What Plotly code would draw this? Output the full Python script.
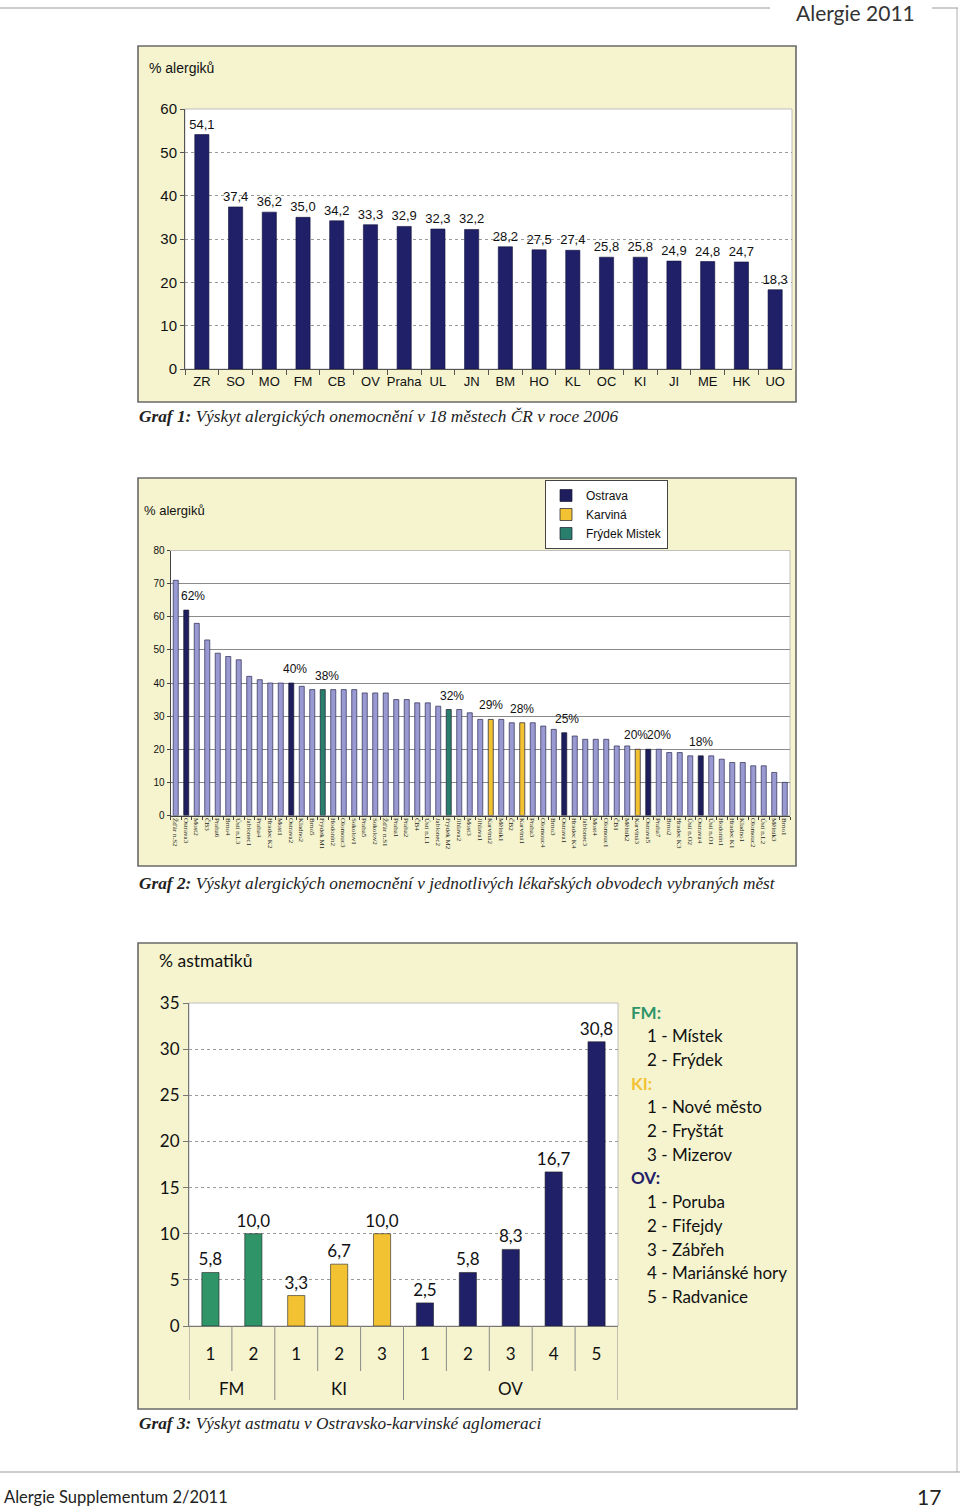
import plotly.graph_objects as go

W, H = 960, 1509
OFF = 0  # body margin is removed by the post script


def px_x(px):
    return (px - OFF) / W


def px_y(py):
    return 1 - (py - OFF) / H


# ---------------- data ----------------
# Graf 1
cities1 = ["ZR", "SO", "MO", "FM", "CB", "OV", "Praha", "UL", "JN", "BM",
           "HO", "KL", "OC", "KI", "JI", "ME", "HK", "UO"]
allergy1 = [54.1, 37.4, 36.2, 35.0, 34.2, 33.3, 32.9, 32.3, 32.2, 28.2,
            27.5, 27.4, 25.8, 25.8, 24.9, 24.8, 24.7, 18.3]

# Graf 2
districts2 = ["Žďár n.S2", "Ostrava3", "Most2", "ČB3", "Praha6", "Brno4", "Ústí n.L3",
              "Jablonec1", "Praha4", "Hradec K2", "Most1", "Ostrava2", "Kladno2", "Brno5",
              "Frýdek M1", "Hodonín2", "Olomouc3", "Sokolov1", "Praha5", "Sokolov2",
              "Žďár n.S1", "Praha1", "Praha2", "ČB4", "Ústí n.L1", "Jablonec2", "Frýdek M2",
              "Jihlava2", "Most3", "Jihlava1", "Karviná2", "Mělník1", "ČB2", "Karviná1",
              "Praha3", "Olomouc4", "Brno3", "Ostrava1", "Hradec K4", "Jablonec3", "Most4",
              "Olomouc1", "ČB1", "Mělník2", "Karviná3", "Ostrava5", "Praha7", "Brno2",
              "Hradec K3", "Ústí n.O2", "Ostrava4", "Ústí n.O1", "Hodonín1", "Hradec K1",
              "Kladno1", "Olomouc2", "Ústí n.L2", "Mělník3", "Brno1"]
allergy2 = [71, 62, 58, 53, 49, 48, 47, 42, 41, 40, 40, 40, 39, 38, 38, 38, 38, 38, 37, 37,
            37, 35, 35, 34, 34, 33, 32, 32, 31, 29, 29, 29, 28, 28, 28, 27, 26, 25, 24, 23,
            23, 23, 21, 21, 20, 20, 20, 19, 19, 18, 18, 18, 17, 16, 16, 15, 15, 13, 10]
highlight_prefix2 = ["Ostrava", "Karviná", "Frýdek M"]
legend_names2 = ["Ostrava", "Karviná", "Frýdek Mistek"]

# Graf 3
groups3 = ["FM", "FM", "KI", "KI", "KI", "OV", "OV", "OV", "OV", "OV"]
parts3 = ["1", "2", "1", "2", "3", "1", "2", "3", "4", "5"]
asthma3 = [5.8, 10.0, 3.3, 6.7, 10.0, 2.5, 5.8, 8.3, 16.7, 30.8]
legend3 = [("FM:", ["1 - Místek", "2 - Frýdek"]),
           ("KI:", ["1 - Nové město", "2 - Fryštát", "3 - Mizerov"]),
           ("OV:", ["1 - Poruba", "2 - Fifejdy", "3 - Zábřeh", "4 - Mariánské hory",
                    "5 - Radvanice"])]

# ---------------- styles ----------------
NAVY = "#1F2068"
LAV = "#9A9AD2"
YEL = "#F2C232"
GRN2 = "#2A7F6C"
GRN3 = "#2F9468"
PANEL = "#F5F4CF"
F1 = "Liberation Sans, Arial, sans-serif"
F2 = "Liberation Sans Narrow, Arial Narrow, Liberation Sans, sans-serif"
F3 = "Lato, Noto Sans, sans-serif"
FS = "Liberation Serif, Times New Roman, serif"
group_colors3 = {"FM": GRN3, "KI": YEL, "OV": NAVY}
hl_colors2 = {"Ostrava": "#1E1E5E", "Karviná": YEL, "Frýdek M": GRN2}

fig = go.Figure()

# ---- Graf 1 ----
fig.add_trace(go.Bar(
    x=cities1, y=allergy1, xaxis="x", yaxis="y", width=0.42,
    marker=dict(color=NAVY, line=dict(color="#10103a", width=0.6)),
    texttemplate="%{y:.1f}", textposition="outside", constraintext="none",
    textfont=dict(family=F1, size=13, color="#111"), cliponaxis=False,
    showlegend=False, hoverinfo="skip"))


# ---- Graf 2 ----
def group_of(d):
    for p in highlight_prefix2:
        if d.startswith(p):
            return p
    return None


other_x = [d for d in districts2 if group_of(d) is None]
other_y = [v for d, v in zip(districts2, allergy2) if group_of(d) is None]
fig.add_trace(go.Bar(
    x=other_x, y=other_y, xaxis="x2", yaxis="y2", width=0.48,
    marker=dict(color=LAV, line=dict(color="#2a2a50", width=0.7)),
    showlegend=False, hoverinfo="skip"))
for p, name in zip(highlight_prefix2, legend_names2):
    gx = [d for d in districts2 if group_of(d) == p]
    gy = [v for d, v in zip(districts2, allergy2) if group_of(d) == p]
    fig.add_trace(go.Bar(
        x=gx, y=gy, xaxis="x2", yaxis="y2", width=0.48, name=name,
        marker=dict(color=hl_colors2[p], line=dict(color="#1a1a30", width=0.7)),
        showlegend=True, hoverinfo="skip"))

# ---- Graf 3 ----
idx3 = list(range(len(asthma3)))
fig.add_trace(go.Bar(
    x=idx3, y=asthma3, xaxis="x3", yaxis="y3", width=0.4,
    marker=dict(color=[group_colors3[g] for g in groups3], line=dict(color="#222", width=0.6)),
    texttemplate="%{y:.1f}", textposition="outside", constraintext="none",
    textfont=dict(family=F3, size=17, color="#111"), cliponaxis=False,
    showlegend=False, hoverinfo="skip"))

# ---------------- geometry ----------------
d1x = [px_x(185), px_x(792)]
d1y = [px_y(369), px_y(109)]
d2x = [px_x(170.5), px_x(790)]
d2y = [px_y(815.5), px_y(550.5)]
d3x = [px_x(189), px_x(618)]
d3y = [px_y(1326), px_y(1003)]

shapes = []
annotations = []

# panels + white plot areas
for (x0, y0, x1, y1), (dx, dy) in zip(
        [(138, 46, 796, 402), (138, 478, 796, 866), (138, 943, 797, 1409)],
        [(d1x, d1y), (d2x, d2y), (d3x, d3y)]):
    shapes.append(dict(type="rect", xref="paper", yref="paper", layer="below",
                       x0=px_x(x0), x1=px_x(x1), y0=px_y(y1), y1=px_y(y0),
                       fillcolor=PANEL, line=dict(color="#6a6a6a", width=1.6)))
    shapes.append(dict(type="rect", xref="paper", yref="paper", layer="below",
                       x0=dx[0], x1=dx[1], y0=dy[0], y1=dy[1],
                       fillcolor="white", line=dict(color="#b0b0b0", width=0.8)))

# header / footer
shapes += [
    dict(type="line", xref="paper", yref="paper", x0=px_x(0), x1=px_x(770), y0=px_y(8), y1=px_y(8),
         line=dict(color="#9a9a9a", width=1)),
    dict(type="line", xref="paper", yref="paper", x0=px_x(932), x1=px_x(958), y0=px_y(8), y1=px_y(8),
         line=dict(color="#9a9a9a", width=1)),
    dict(type="line", xref="paper", yref="paper", x0=px_x(957), x1=px_x(957), y0=px_y(8), y1=px_y(1472),
         line=dict(color="#b0b0b0", width=1)),
    dict(type="line", xref="paper", yref="paper", x0=px_x(0), x1=px_x(960), y0=px_y(1472), y1=px_y(1472),
         line=dict(color="#9a9a9a", width=1)),
]
annotations += [
    dict(text="Alergie 2011", x=px_x(855), y=px_y(13), xref="paper", yref="paper",
         xanchor="center", yanchor="middle", showarrow=False,
         font=dict(family=F3, size=21, color="#333")),
    dict(text="Alergie Supplementum 2/2011", x=px_x(2), y=px_y(1497), xref="paper", yref="paper",
         xanchor="left", yanchor="middle", showarrow=False,
         font=dict(family=F3, size=16.5, color="#222")),
    dict(text="17", x=px_x(943), y=px_y(1496), xref="paper", yref="paper",
         xanchor="right", yanchor="middle", showarrow=False,
         font=dict(family=F3, size=21, color="#222")),
]

# chart titles
annotations += [
    dict(text="% alergiků", x=px_x(147), y=px_y(68), xref="paper", yref="paper",
         xanchor="left", yanchor="middle", showarrow=False,
         font=dict(family=F1, size=14, color="#111")),
    dict(text="% alergiků", x=px_x(142), y=px_y(510), xref="paper", yref="paper",
         xanchor="left", yanchor="middle", showarrow=False,
         font=dict(family=F2, size=13, color="#111")),
    dict(text="% astmatiků", x=px_x(157), y=px_y(960), xref="paper", yref="paper",
         xanchor="left", yanchor="middle", showarrow=False,
         font=dict(family=F3, size=17.5, color="#111")),
]

# captions
captions = [
    (417, "Graf 1:", " Výskyt alergických onemocnění v 18 městech ČR v roce 2006"),
    (883, "Graf 2:", " Výskyt alergických onemocnění v jednotlivých lékařských obvodech vybraných měst"),
    (1423, "Graf 3:", " Výskyt astmatu v Ostravsko-karvinské aglomeraci"),
]
for yy, bold, rest in captions:
    annotations.append(dict(text=f"<b><i>{bold}</i></b><i>{rest}</i>", x=px_x(137), y=px_y(yy),
                            xref="paper", yref="paper", xanchor="left", yanchor="middle",
                            showarrow=False, font=dict(family=FS, size=17.3, color="#222")))

# Graf 2 percentage labels
shift2 = {"Ostrava3": 7, "Ostrava2": 4, "Frýdek M1": 4, "Frýdek M2": 3, "Ostrava1": 3,
          "Karviná3": -2, "Ostrava5": 11}
for d, v in zip(districts2, allergy2):
    if group_of(d) is not None:
        annotations.append(dict(text=f"{v:.0f}%", x=d, y=v, xref="x2", yref="y2",
                                xanchor="center", yanchor="bottom", yshift=5,
                                xshift=shift2.get(d, 0), showarrow=False,
                                font=dict(family=F2, size=12, color="#111")))

# Graf 3 category dividers and group labels
n3 = len(asthma3)
for i in range(n3 + 1):
    long_line = i == 0 or i == n3 or groups3[i] != groups3[i - 1]
    shapes.append(dict(type="line", xref="x3", yref="paper", x0=i - 0.5, x1=i - 0.5,
                       y0=px_y(1326), y1=px_y(1400 if long_line else 1371),
                       line=dict(color="#8a8a8a", width=1)))
seen = []
for g in groups3:
    if g not in seen:
        seen.append(g)
for g in seen:
    members = [i for i, gg in enumerate(groups3) if gg == g]
    annotations.append(dict(text=g, x=sum(members) / len(members), y=px_y(1388),
                            xref="x3", yref="paper", xanchor="center", yanchor="middle",
                            showarrow=False, font=dict(family=F3, size=17, color="#111")))

# Graf 3 side legend
line_y = 1012
for head, items in legend3:
    annotations.append(dict(text=f"<b>{head}</b>", x=px_x(629), y=px_y(line_y), xref="paper",
                            yref="paper", xanchor="left", yanchor="middle", showarrow=False,
                            font=dict(family=F3, size=17, color=group_colors3[head[:-1]])))
    line_y += 23.7
    for it in items:
        annotations.append(dict(text=it, x=px_x(645), y=px_y(line_y), xref="paper",
                                yref="paper", xanchor="left", yanchor="middle", showarrow=False,
                                font=dict(family=F3, size=17, color="#111")))
        line_y += 23.7

fig.update_layout(
    width=W, height=H, autosize=False,
    margin=dict(l=0, r=0, t=0, b=0, pad=0, autoexpand=False),
    paper_bgcolor="white", plot_bgcolor="rgba(0,0,0,0)",
    barmode="overlay", separators=", ",
    shapes=shapes, annotations=annotations,
    legend=dict(x=px_x(545), y=px_y(480), xanchor="left", yanchor="top",
                bgcolor="white", bordercolor="#444", borderwidth=1,
                font=dict(family=F2, size=12, color="#111"), tracegroupgap=0,
                traceorder="normal", itemwidth=30),
    xaxis=dict(domain=d1x, anchor="y", type="category", showline=True, linecolor="#555",
               ticks="outside", ticklen=5, tickcolor="#555", tickson="boundaries",
               tickangle=0, automargin=False,
               tickfont=dict(family=F1, size=13, color="#111"), showgrid=False),
    yaxis=dict(domain=d1y, anchor="x", range=[0, 60], dtick=10, showline=True,
               linecolor="#555", ticks="outside", ticklen=4, tickcolor="#555",
               gridcolor="#9a9a9a", griddash="dot", zeroline=False, automargin=False,
               tickfont=dict(family=F1, size=15, color="#111")),
    xaxis2=dict(domain=d2x, anchor="y2", type="category", categoryorder="array",
                categoryarray=districts2, tickangle=90, showline=True, linecolor="#444",
                ticks="outside", ticklen=3, tickcolor="#444", tickson="boundaries",
                automargin=False,
                tickfont=dict(family=FS, size=7, color="#222"), showgrid=False),
    yaxis2=dict(domain=d2y, anchor="x2", range=[0, 80], dtick=10, showline=True,
                linecolor="#444", ticks="outside", ticklen=3, tickcolor="#444",
                gridcolor="#8a8a8a", gridwidth=1.2, zeroline=False, automargin=False,
                tickfont=dict(family=F2, size=10, color="#111")),
    xaxis3=dict(domain=d3x, anchor="y3", range=[-0.5, n3 - 0.5], tickvals=idx3,
                ticktext=parts3, ticks="outside", ticklen=13, tickcolor="rgba(0,0,0,0)",
                tickangle=0, automargin=False,
                tickfont=dict(family=F3, size=17, color="#111"), showline=True,
                linecolor="#777", showgrid=False, zeroline=False),
    yaxis3=dict(domain=d3y, anchor="x3", range=[0, 35], dtick=5, showline=True,
                linecolor="#777", ticks="outside", ticklen=5, tickcolor="#777",
                gridcolor="#9a9a9a", griddash="dot", zeroline=False, automargin=False,
                tickfont=dict(family=F3, size=17, color="#111")),
)

fig.write_html("out.html", config={"displayModeBar": False},
               post_script="document.body.style.margin='0';")
